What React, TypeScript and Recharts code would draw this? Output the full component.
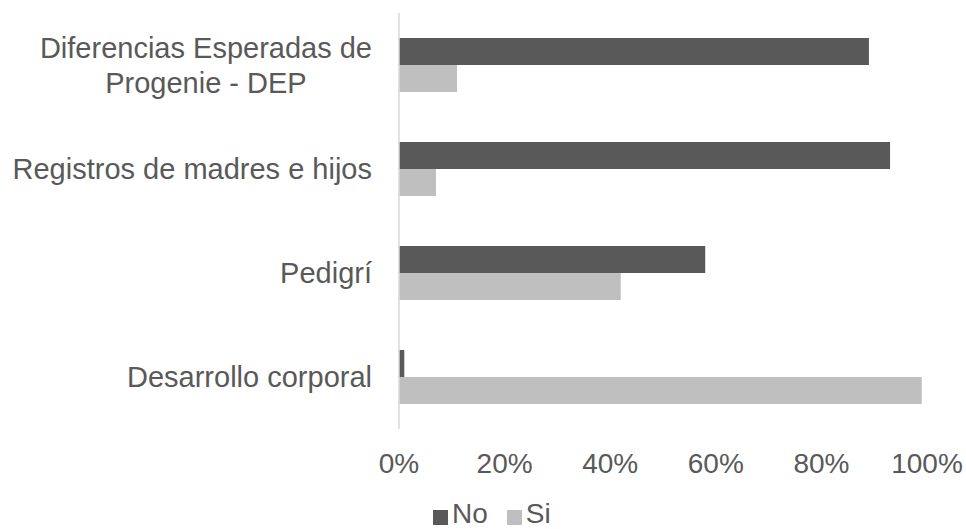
import React from 'react';
import { BarChart, Bar, XAxis, YAxis, Legend } from 'recharts';

// categories top to bottom; "\n" marks the line break in the axis label
const categories = [
  'Diferencias Esperadas de\nProgenie - DEP',
  'Registros de madres e hijos',
  'Pedigrí',
  'Desarrollo corporal',
];
const noValues = [89, 93, 58, 1];
const siValues = [11, 7, 42, 99];
const xTicks = [0, 20, 40, 60, 80, 100];

const data = categories.map((name, i) => ({ name, No: noValues[i], Si: siValues[i] }));

const FONT = '"Liberation Sans", Arial, sans-serif';
const TEXT = '#595959';
const NO_COLOR = '#595959';
const SI_COLOR = '#bfbfbf';
const CAT_SIZE = 29;

let ctx: CanvasRenderingContext2D | null = null;
function textWidth(s: string) {
  if (!ctx) ctx = document.createElement('canvas').getContext('2d');
  if (!ctx) return s.length * 14;
  ctx.font = `${CAT_SIZE}px ${FONT}`;
  return ctx.measureText(s).width;
}

function CategoryTick({ x, y, payload }: any) {
  const lines = String(payload.value).split('\n');
  const lineHeight = 35;
  const widest = Math.max(...lines.map(textWidth));
  const cx = x - widest / 2;
  const startY = y - ((lines.length - 1) * lineHeight) / 2;
  return (
    <text x={cx} y={startY} textAnchor="middle" fontSize={CAT_SIZE} fontFamily={FONT} fill={TEXT}>
      {lines.map((l, i) => (
        <tspan key={i} x={cx} y={startY + i * lineHeight} dy="0.36em">
          {l}
        </tspan>
      ))}
    </text>
  );
}

function LegendContent({ payload }: any) {
  return (
    <div style={{ display: 'flex', fontFamily: FONT, fontSize: 28, lineHeight: '28px', color: TEXT }}>
      {(payload || []).map((entry: any, i: number) => (
        <div key={entry.value} style={{ display: 'flex', alignItems: 'flex-start', marginLeft: i ? 19 : 0 }}>
          <span style={{ width: 15, height: 15, background: entry.color, marginTop: 10, marginRight: 4 }} />
          <span>{entry.value}</span>
        </div>
      ))}
    </div>
  );
}

export default function App() {
  return (
    <div style={{ position: 'absolute', left: 0, top: 0, width: 966, height: 529, overflow: 'hidden', background: '#fff' }}>
      <BarChart
        width={966}
        height={529}
        data={data}
        layout="vertical"
        margin={{ top: 13, right: 39, bottom: 0, left: 0 }}
        barGap={0}
      >
        <XAxis
          type="number"
          domain={[0, 100]}
          ticks={xTicks}
          interval={0}
          tickFormatter={(v: number) => `${v}%`}
          axisLine={false}
          tickLine={false}
          tickSize={0}
          tickMargin={24}
          height={100}
          tick={{ fontSize: 28, fill: TEXT, fontFamily: FONT }}
        />
        <YAxis
          type="category"
          dataKey="name"
          width={399}
          interval={0}
          axisLine={{ stroke: '#d9d9d9', strokeWidth: 1.5 }}
          tickLine={false}
          tickSize={0}
          tickMargin={27}
          tick={<CategoryTick />}
        />
        <Legend
          verticalAlign="middle"
          align="center"
          content={<LegendContent />}
          wrapperStyle={{ left: 433, top: 500, width: 200, height: 29 }}
        />
        <Bar dataKey="No" fill={NO_COLOR} barSize={27} isAnimationActive={false} />
        <Bar dataKey="Si" fill={SI_COLOR} barSize={27} isAnimationActive={false} />
      </BarChart>
    </div>
  );
}
